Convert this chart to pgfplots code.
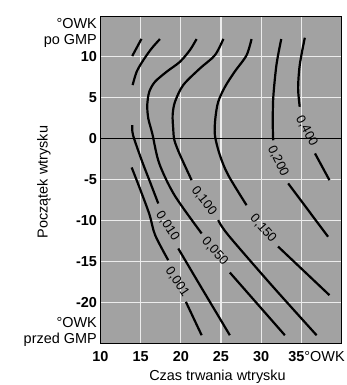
\documentclass[border=0pt]{standalone}
\usepackage{fontspec}
\setmainfont{Liberation Sans}
\usepackage{pgfplots}
\pgfplotsset{compat=1.18}
\definecolor{bggray}{RGB}{162,162,162}
\definecolor{gridw}{RGB}{236,236,236}
\begin{document}
\begin{tikzpicture}
\begin{axis}[
  at={(0,0)}, anchor=south west,
  width=241bp, height=327bp, scale only axis,
  xmin=10, xmax=40, ymin=-25, ymax=15,
  xtick={10,15,...,35}, ytick={-20,-15,...,10},
  xticklabels={10,15,20,25,30,{\makebox[0pt][l]{\hspace{-13bp}35\mdseries °OWK}}},
  yticklabels={-20,-15,-10,-5,0,5,10},
  major tick length=0pt,
  ticklabel style={font=\bfseries\fontsize{14.5}{17}\selectfont},
  xticklabel style={yshift=-5bp},
  grid=major,
  grid style={gridw, line width=1.1bp},
  axis background/.style={fill=bggray},
  axis line style={black, line width=0.9bp},
  clip=true,
]
\addplot[black, line width=0.9bp] coordinates {(10,0) (40,0)};
% 0,001
\addplot[black, line width=2.2bp, smooth] coordinates {(13.95,10.1) (15.1,12.2)};
\addplot[black, line width=2.2bp, smooth] coordinates {(13.88,-3.53) (14.9,-6.1) (16.1,-9.3) (16.8,-11.8) (18.43,-14.87)};
\addplot[black, line width=2.2bp, smooth] coordinates {(20.63,-19.97) (22.59,-24.05)};
% 0,010
\addplot[black, line width=2.2bp, smooth] coordinates {(14.0,6.55) (14.5,8.18) (15.33,9.6) (16.37,11.04) (17.4,12.18)};
\addplot[black, line width=2.2bp, smooth] coordinates {(13.96,1.65) (14.05,0.43) (15.12,-2.63) (16.16,-5.29) (17.19,-7.93)};
\addplot[black, line width=2.2bp, smooth] coordinates {(19.68,-13.44) (22.38,-17.93) (26.1,-24.05)};
% 0,050
\addplot[black, line width=2.2bp, smooth] coordinates {(21.96,12.18) (21.13,10.83) (19.89,9.4) (18.23,8.18) (16.78,6.95) (16.07,5.73) (15.82,4.1) (15.95,2.47) (16.45,0.6) (17.3,-3.0) (19.2,-6.9) (22.59,-11.6)};
\addplot[black, line width=2.2bp, smooth] coordinates {(26.1,-16.38) (32.95,-24.05)};
% 0,100
\addplot[black, line width=2.2bp, smooth] coordinates {(25.3,12.2) (24.24,10.2) (22.38,8.59) (20.3,6.55) (19.27,4.5) (18.98,2.88) (19.05,1.25) (19.2,-0.2) (19.9,-2.0) (21.34,-5.08)};
\addplot[black, line width=2.2bp, smooth] coordinates {(24.65,-9.97) (25.9,-11.8) (31.3,-17.93) (36.9,-24.05)};
% 0,150
\addplot[black, line width=2.2bp, smooth] coordinates {(28.8,12.18) (28.18,10.2) (26.7,8.18) (25.5,6.34) (24.65,4.5) (24.3,2.5) (24.24,0.43) (24.86,-2.02) (25.9,-4.47) (28.18,-8.14)};
\addplot[black, line width=2.2bp, smooth] coordinates {(32.1,-13.2) (38.5,-19.15)};
% 0,200
\addplot[black, line width=2.2bp, smooth] coordinates {(32.5,12.18) (31.9,9.0) (31.5,4.92) (31.45,1.5) (31.5,-0.2)};
\addplot[black, line width=2.2bp, smooth] coordinates {(33.36,-5.48) (38.33,-12.0)};
% 0,400
\addplot[black, line width=2.2bp, smooth] coordinates {(35.43,12.34) (34.8,9.0) (34.6,6.14) (34.8,3.9)};
\addplot[black, line width=2.2bp, smooth] coordinates {(36.7,-1.81) (38.5,-5.08)};
% contour labels
\begin{scope}[every node/.style={font=\fontsize{13}{15}\selectfont, inner sep=0pt}]
\node[rotate=-62] at (axis cs:35.65,0.95) {0,400};
\node[rotate=-64] at (axis cs:32.1,-2.75) {0,200};
\node[rotate=-48] at (axis cs:30.25,-11.0) {0,150};
\node[rotate=-52] at (axis cs:22.87,-7.6) {0,100};
\node[rotate=-48] at (axis cs:24.24,-13.8) {0,050};
\node[rotate=-57] at (axis cs:18.35,-10.67) {0,010};
\node[rotate=-56] at (axis cs:19.55,-17.5) {0,001};
\end{scope}
\end{axis}
\begin{scope}[every node/.style={font=\fontsize{14.5}{17}\selectfont, inner sep=0pt}]
\node[anchor=east] at (-3.5bp,319bp) {°OWK};
\node[anchor=east] at (-3.5bp,302bp) {po GMP};
\node[anchor=east] at (-3.5bp,20bp) {°OWK};
\node[anchor=east] at (-3.5bp,3bp) {przed GMP};
\node[rotate=90] at (-56.5bp,161bp) {Początek wtrysku};
\node[anchor=base] at (117bp,-37bp) {Czas trwania wtrysku};
\end{scope}
\path[use as bounding box] (-100.5bp,-42bp) rectangle (246.5bp,343bp);
\end{tikzpicture}
\end{document}
